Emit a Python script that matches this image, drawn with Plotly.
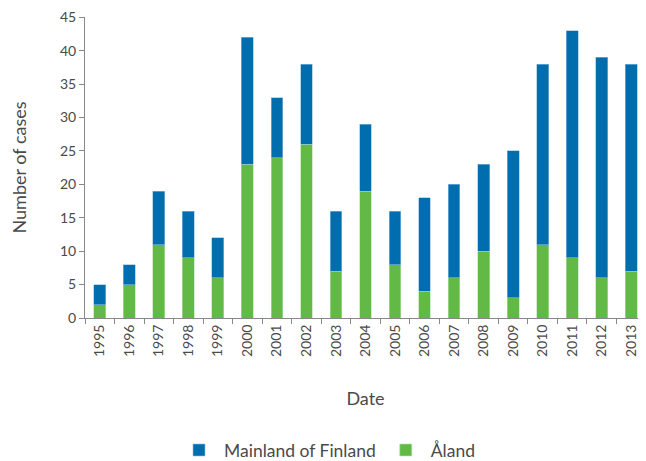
import plotly.graph_objects as go

years = [str(y) for y in range(1995, 2014)]
aland = [2, 5, 11, 9, 6, 23, 24, 26, 7, 19, 8, 4, 6, 10, 3, 11, 9, 6, 7]
mainland = [3, 3, 8, 7, 6, 19, 9, 12, 9, 10, 8, 14, 14, 13, 22, 27, 34, 33, 31]
y_ticks = list(range(0, 50, 5))

FONT = "Lato"
GREY = "#4a4a4a"

fig = go.Figure()
fig.add_trace(go.Bar(x=years, y=aland, name="Åland",
                     marker=dict(color="#62b946", line=dict(color="#b8e0aa", width=0.6))))
fig.add_trace(go.Bar(x=years, y=mainland, name="Mainland of Finland",
                     marker=dict(color="#006dae", line=dict(color="#8ec0e0", width=0.6))))

fig.update_layout(
    width=638, height=453,
    barmode="stack", bargap=0.6,
    plot_bgcolor="white", paper_bgcolor="white",
    margin=dict(l=77, r=0, t=9, b=143),
    font=dict(family=FONT, color=GREY, size=14),
    legend=dict(orientation="h", xref="container", x=0.5, xanchor="center",
                yref="container", y=0.024, yanchor="middle",
                traceorder="reversed", font=dict(size=17.5, color=GREY),
                itemwidth=40),
    showlegend=True,
)
fig.update_xaxes(
    type="category", tickangle=-90, tickson="boundaries",
    ticks="outside", ticklen=5, tickcolor="#888888",
    showline=True, linecolor="#888888", linewidth=1,
    title=dict(text="Date", font=dict(size=18, color=GREY), standoff=36),
    tickfont=dict(size=14, color=GREY),
)
fig.update_yaxes(
    range=[0, 45.05], tickvals=y_ticks, showgrid=False,
    ticks="outside", ticklen=5, tickcolor="#888888",
    showline=True, linecolor="#888888", linewidth=1,
    title=dict(text="Number of cases", font=dict(size=18, color=GREY), standoff=30),
    tickfont=dict(size=14, color=GREY), zeroline=False,
    ticklabeloverflow="allow",
)

fig.write_html("out.html")
